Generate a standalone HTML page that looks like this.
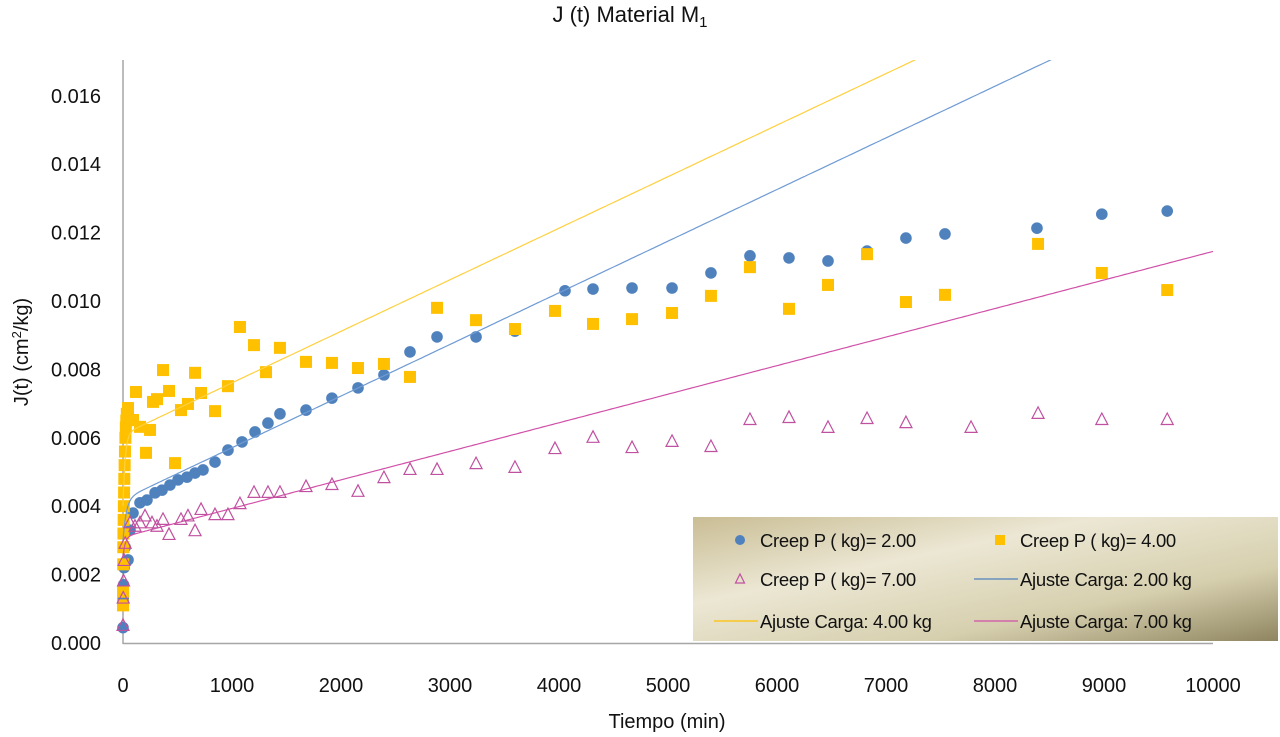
<!DOCTYPE html>
<html><head><meta charset="utf-8"><style>
body{margin:0;background:#fff;font-family:"Liberation Sans",sans-serif}
svg{display:block}
</style></head><body>
<svg id="c" width="1280" height="737"></svg>
<script>
const xTicks=[0,1000,2000,3000,4000,5000,6000,7000,8000,9000,10000];
const yTicks=[0,0.002,0.004,0.006,0.008,0.010,0.012,0.014,0.016];
const blueT=[0,2,5,10,20,46,64,92,156,220,294,358,431,505,587,661,734,844,963,1092,1211,1330,1440,1679,1917,2156,2394,2633,2881,3239,3596,4055,4312,4670,5037,5394,5752,6110,6468,6826,7183,7541,8385,8980,9580];
const blueJ=[0.00045,0.0013,0.0017,0.0022,0.0028,0.00243,0.0033,0.0038,0.0041,0.00418,0.00439,0.00447,0.00462,0.00477,0.00485,0.00497,0.00506,0.00529,0.00564,0.00588,0.00617,0.00643,0.0067,0.00681,0.00716,0.00746,0.00784,0.00851,0.00895,0.00895,0.00912,0.0103,0.01035,0.01038,0.01038,0.01082,0.01132,0.01126,0.01117,0.01146,0.01184,0.01196,0.01213,0.01254,0.01263];
const yelT=[0,1,2,3,4,6,8,10,12,15,18,22,26,30,35,46,92,119,156,211,248,275,312,367,422,477,532,596,661,716,844,963,1073,1202,1312,1440,1679,1917,2156,2394,2633,2881,3239,3596,3963,4312,4670,5037,5394,5752,6110,6468,6826,7183,7541,8395,8980,9580];
const yelJ=[0.0011,0.0015,0.0023,0.0028,0.0032,0.0036,0.004,0.0044,0.0048,0.0052,0.0056,0.006,0.0063,0.0065,0.0067,0.00687,0.00652,0.00734,0.00632,0.00556,0.00623,0.00705,0.00713,0.00798,0.00737,0.00526,0.00681,0.00699,0.0079,0.00731,0.00678,0.00751,0.00924,0.00871,0.00792,0.00863,0.00822,0.00819,0.00804,0.00816,0.00778,0.0098,0.00944,0.00918,0.00971,0.00933,0.00947,0.00965,0.01015,0.01099,0.00977,0.01047,0.01137,0.00997,0.01018,0.01167,0.01082,0.01032];
const pinkT=[0,2,5,10,20,64,110,156,202,266,312,367,422,532,596,661,716,844,963,1073,1202,1330,1440,1679,1917,2156,2394,2633,2881,3239,3596,3963,4312,4670,5037,5394,5752,6110,6468,6826,7183,7780,8395,8980,9580];
const pinkJ=[0.0005,0.0013,0.0018,0.0024,0.0029,0.0035,0.0034,0.0035,0.0037,0.0035,0.0034,0.0036,0.00316,0.0036,0.0037,0.00327,0.00389,0.00374,0.00374,0.00406,0.00439,0.00439,0.00439,0.00456,0.00462,0.00442,0.00482,0.00506,0.00506,0.00523,0.00512,0.00567,0.006,0.0057,0.00588,0.00573,0.00652,0.00658,0.00629,0.00655,0.00643,0.00629,0.0067,0.00652,0.00652];
// fit params: J0, A, tau, slope
const fitBlue=[0.0030,0.0012,30,1.51e-6];
const fitYel=[0.0040,0.0021,20,1.507e-6];
const fitPink=[0.0025,0.0006,20,8.35e-7];

const NS='http://www.w3.org/2000/svg';
const svg=document.getElementById('c');
const X=t=>123+t*0.109;
const Y=j=>643-j*34200;
function el(tag,attrs,parent){const e=document.createElementNS(NS,tag);for(const k in attrs)e.setAttribute(k,attrs[k]);(parent||svg).appendChild(e);return e;}
function txt(s,attrs,parent){const e=el('text',attrs,parent);e.textContent=s;return e;}

const defs=el('defs',{});
defs.innerHTML='<clipPath id="pc"><rect x="114" y="60" width="1114" height="590"/></clipPath><linearGradient id="lg" x1="0" y1="0" x2="1" y2="1"><stop offset="0" stop-color="#c9bd94"/><stop offset="0.35" stop-color="#ece7d4"/><stop offset="0.7" stop-color="#d6cfae"/><stop offset="1" stop-color="#8f8560"/></linearGradient>';

const title=txt('J (t) Material M',{x:630,y:22,'text-anchor':'middle','font-size':22,fill:'#111'});


const sub=el('tspan',{'font-size':15,dy:5},title);sub.textContent='1';

const axes=el('g',{});


el('line',{x1:123,y1:60,x2:123,y2:644,stroke:'#a6a6a6','stroke-width':1.5},axes);
el('line',{x1:123,y1:643.5,x2:1213,y2:643.5,stroke:'#a6a6a6','stroke-width':1.5},axes);
xTicks.forEach(t=>{const e=txt(String(t),{x:X(t),y:692,'text-anchor':'middle','font-size':20,fill:'#111'},axes);

});
yTicks.forEach(j=>{const e=txt(j.toFixed(3),{x:101,y:Y(j)+7,'text-anchor':'end','font-size':20,fill:'#111'},axes);

});
const xt=txt('Tiempo (min)',{x:667,y:728,'text-anchor':'middle','font-size':20,fill:'#111'});


const yt=txt('',{x:0,y:0,'text-anchor':'middle','font-size':20,fill:'#111',transform:'translate(28,352) rotate(-90)'});
yt.innerHTML='J(t) (cm<tspan font-size="13" dy="-7">2</tspan><tspan dy="7">/kg)</tspan>';



const plot=el('g',{'clip-path':'url(#pc)'});
function fitLine(p,color,name){let d='';for(let i=0;i<=400;i++){const tt=i<100?i*i*0.1:1000+(i-100)*30;const j=p[0]+p[1]*(1-Math.exp(-tt/p[2]))+p[3]*tt;d+=(i?'L':'M')+X(tt).toFixed(1)+','+Y(j).toFixed(1);}
const e=el('path',{d:d,fill:'none',stroke:color,'stroke-width':1.2},plot);

}
const gb=el('g',{},plot);
blueT.forEach((t,i)=>{const e=el('circle',{cx:X(t),cy:Y(blueJ[i]),r:5.8,fill:'#4f81bd'},gb);

});
const gy=el('g',{},plot);
yelT.forEach((t,i)=>{const e=el('rect',{x:X(t)-6,y:Y(yelJ[i])-6,width:12,height:12,fill:'#ffc000'},gy);

});
fitLine(fitBlue,'#6f9bd4','fit-line-2kg');
fitLine(fitYel,'#ffd040','fit-line-4kg');
fitLine(fitPink,'#d050a8','fit-line-7kg');
const gp=el('g',{},plot);
pinkT.forEach((t,i)=>{const x=X(t),y=Y(pinkJ[i]);const e=el('path',{d:`M${x},${y-7}L${x+6},${y+4.5}L${x-6},${y+4.5}Z`,fill:'none',stroke:'#c050a0','stroke-width':1.2},gp);

});

const lg=el('g',{});


el('rect',{x:693,y:517,width:585,height:124,fill:'url(#lg)'},lg);
const L=[[740,540,'c','Creep P ( kg)= 2.00'],[1000,540,'s','Creep P ( kg)= 4.00'],[740,579,'t','Creep P ( kg)= 7.00'],[1000,579,'l#4f81bd','Ajuste Carga: 2.00 kg'],[740,621,'l#ffc000','Ajuste Carga: 4.00 kg'],[1000,621,'l#d050a8','Ajuste Carga: 7.00 kg']];
L.forEach(([x,y,k,s])=>{const g=el('g',{},lg);
if(k=='c')el('circle',{cx:x,cy:y,r:5,fill:'#4f81bd'},g);
else if(k=='s')el('rect',{x:x-5,y:y-5,width:10,height:10,fill:'#ffc000'},g);
else if(k=='t')el('path',{d:`M${x},${y-5}L${x+4.5},${y+4}L${x-4.5},${y+4}Z`,fill:'none',stroke:'#c050a0','stroke-width':1.2},g);
else el('line',{x1:x-26,y1:y,x2:x+18,y2:y,stroke:k.slice(1),'stroke-width':1.3},g);
txt(s,{x:x+20,y:y+7,'font-size':18.5,fill:'#111','letter-spacing':'-0.3'},g);});
</script>
</body></html>
